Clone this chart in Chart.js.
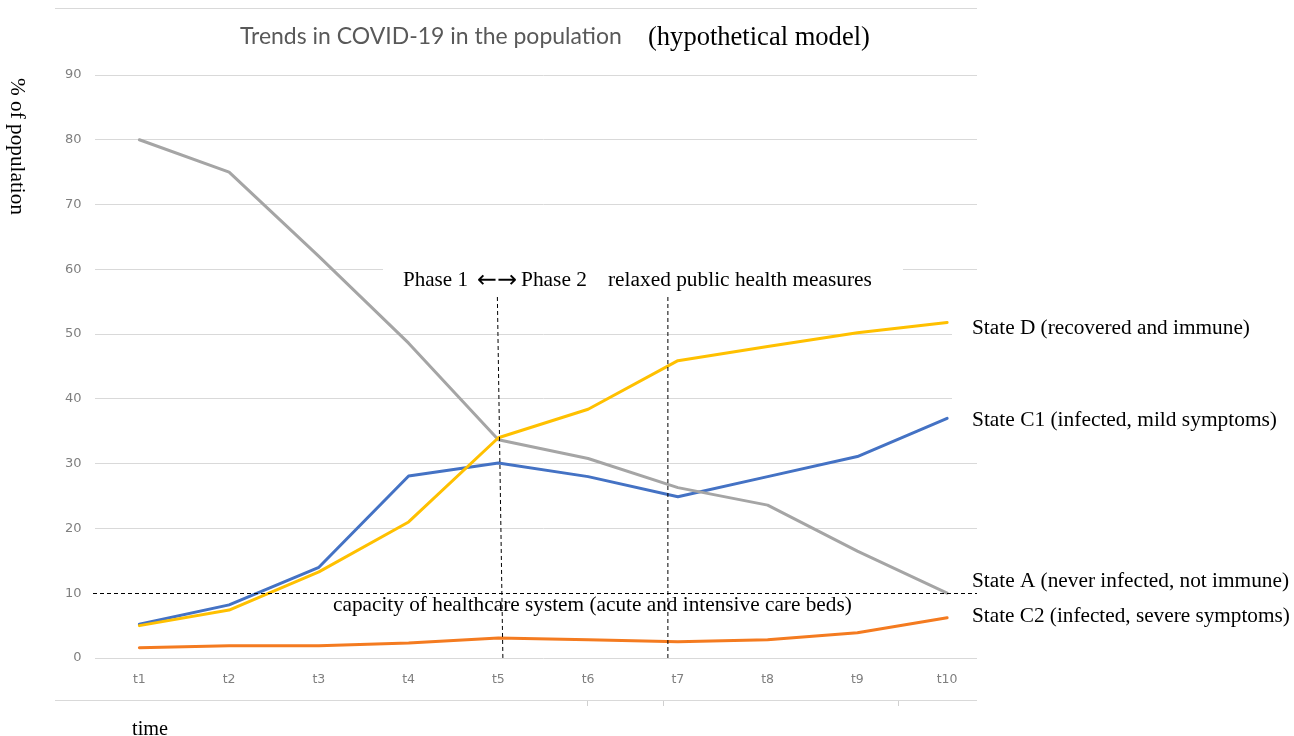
<!DOCTYPE html>
<html>
<head>
<meta charset="utf-8">
<script src="https://cdn.jsdelivr.net/npm/chart.js@4/dist/chart.umd.min.js"></script>
<style>
  html, body { margin: 0; padding: 0; background: #fff; }
  canvas { display: block; }
</style>
</head>
<body>
<canvas id="covidChart" width="1294" height="736"></canvas>
<script>
// values (% of population)
const timeLabels = ['t1', 't2', 't3', 't4', 't5', 't6', 't7', 't8', 't9', 't10'];
const stateA = [80, 75, 62, 48.6, 33.7, 30.8, 26.3, 23.6, 16.5, 10];
const stateC1 = [5.2, 8.2, 14, 28.1, 30.1, 28, 24.9, 28, 31.1, 37];
const stateC2 = [1.6, 1.9, 1.9, 2.3, 3.1, 2.8, 2.5, 2.8, 3.9, 6.2];
const stateD = [5, 7.4, 13.3, 21, 34, 38.4, 45.9, 48.1, 50.2, 51.8];
const yMin = 0, yMax = 90, yStep = 10;
const capacityLevel = 10;

const SERIF = '"Liberation Serif", "Times New Roman", serif';
const SANS = 'Lato, "Open Sans", sans-serif';

// draw text scaled so it takes the given width
function fitText(ctx, txt, x, y, w, family, color) {
    ctx.font = '20px ' + family;
    const size = 20 * w / ctx.measureText(txt).width;
    ctx.font = size.toFixed(2) + 'px ' + family;
    ctx.fillStyle = color || '#000';
    ctx.fillText(txt, x, y);
}

function hLine(ctx, x1, x2, y, color) {
    ctx.strokeStyle = color;
    ctx.beginPath();
    ctx.moveTo(x1, y);
    ctx.lineTo(x2, y);
    ctx.stroke();
}

const overlay = {
    id: 'overlay',
    beforeDatasetsDraw(chart) {
        const ctx = chart.ctx;
        ctx.save();
        ctx.fillStyle = '#fff';
        // text boxes that hide parts of the gridlines
        ctx.fillRect(383, 262, 520, 34);
        ctx.fillRect(952, 314, 342, 28);
        ctx.fillRect(952, 396, 342, 40);
        ctx.fillRect(977, 60, 317, 605);
        ctx.restore();
    },
    afterDatasetsDraw(chart) {
        const ctx = chart.ctx;
        const x = chart.scales.x;
        const y = chart.scales.y;
        ctx.save();

        // frame lines of the pasted picture
        ctx.lineWidth = 1;
        hLine(ctx, 55, 977, 8.5, '#d9d9d9');
        hLine(ctx, 55, 977, 700.5, '#d9d9d9');
        ctx.strokeStyle = '#d0d0d0';
        [587, 663, 898].forEach(px => {
            ctx.beginPath();
            ctx.moveTo(px + 0.5, 701);
            ctx.lineTo(px + 0.5, 706);
            ctx.stroke();
        });

        // dashed annotation lines
        ctx.strokeStyle = '#000';
        ctx.lineWidth = 1;
        ctx.setLineDash([4, 3]);
        const yCap = Math.round(y.getPixelForValue(capacityLevel)) + 0.5;
        hLine(ctx, 93, 977, yCap, '#000');
        const x5 = x.getPixelForValue(4);
        const x7 = x.getPixelForValue(6);
        const y0 = y.getPixelForValue(0);
        ctx.beginPath();
        ctx.moveTo(x5 - 1, 297);
        ctx.lineTo(x5 + 4.5, y0);
        ctx.moveTo(x7 - 10, 297);
        ctx.lineTo(x7 - 10, y0);
        ctx.stroke();
        ctx.setLineDash([]);

        ctx.textBaseline = 'middle';
        ctx.textAlign = 'left';
        fitText(ctx, 'Trends in COVID-19 in the population', 240, 37, 382, SANS, '#595959');
        fitText(ctx, '(hypothetical model)', 648, 38, 222, SERIF);
        fitText(ctx, 'Phase 1', 403, 280, 65, SERIF);
        fitText(ctx, '\u2190\u2192', 477, 281, 40, '"DejaVu Sans", sans-serif');
        fitText(ctx, 'Phase 2', 521, 280, 66, SERIF);
        fitText(ctx, 'relaxed public health measures', 608, 280, 264, SERIF);
        fitText(ctx, 'capacity of healthcare system (acute and intensive care beds)', 333, 605, 519, SERIF);
        fitText(ctx, 'State D (recovered and immune)', 972, 328, 278, SERIF);
        fitText(ctx, 'State C1 (infected, mild symptoms)', 972, 420, 305, SERIF);
        fitText(ctx, 'State A (never infected, not immune)', 972, 581, 317, SERIF);
        fitText(ctx, 'State C2 (infected, severe symptoms)', 972, 616, 318, SERIF);
        fitText(ctx, 'time', 132, 730, 36, SERIF);

        // rotated y-axis title
        ctx.translate(17, 146.5);
        ctx.rotate(Math.PI / 2);
        ctx.textAlign = 'center';
        fitText(ctx, '% of population', 0, 0, 137, SERIF);
        ctx.restore();
    }
};

function series(label, data, color) {
    return {
        label: label,
        data: data,
        borderColor: color,
        backgroundColor: color,
        borderWidth: 3,
        pointRadius: 0,
        tension: 0,
        borderJoinStyle: 'round',
        borderCapStyle: 'round',
        fill: false
    };
}

new Chart(document.getElementById('covidChart'), {
    type: 'line',
    data: {
        labels: timeLabels,
        datasets: [
            series('State D (recovered and immune)', stateD, '#FFC000'),
            series('State A (never infected, not immune)', stateA, '#A5A5A5'),
            series('State C2 (infected, severe symptoms)', stateC2, '#F47B20'),
            series('State C1 (infected, mild symptoms)', stateC1, '#4472C4')
        ]
    },
    options: {
        responsive: false,
        devicePixelRatio: 1,
        animation: false,
        layout: { padding: { left: 0, right: 302, top: 75, bottom: 0 } },
        plugins: {
            legend: { display: false },
            title: { display: false },
            tooltip: { enabled: false }
        },
        scales: {
            x: {
                offset: true,
                grid: { display: false, drawTicks: false },
                border: { display: false },
                ticks: {
                    color: '#7f7f7f',
                    font: { family: 'DejaVu Sans', size: 12.5 },
                    padding: 14,
                    maxRotation: 0
                },
                afterFit(scale) { scale.height = 78; }
            },
            y: {
                min: yMin,
                max: yMax,
                grid: {
                    drawTicks: false,
                    lineWidth: 1,
                    color: c => (c.tick && c.tick.value === capacityLevel) ? 'rgba(0,0,0,0)' : '#d9d9d9'
                },
                border: { display: false },
                ticks: {
                    stepSize: yStep,
                    color: '#7f7f7f',
                    font: { family: 'DejaVu Sans', size: 13 },
                    padding: 13
                },
                afterFit(scale) { scale.width = 94.5; }
            }
        }
    },
    plugins: [overlay]
});
</script>
</body>
</html>
